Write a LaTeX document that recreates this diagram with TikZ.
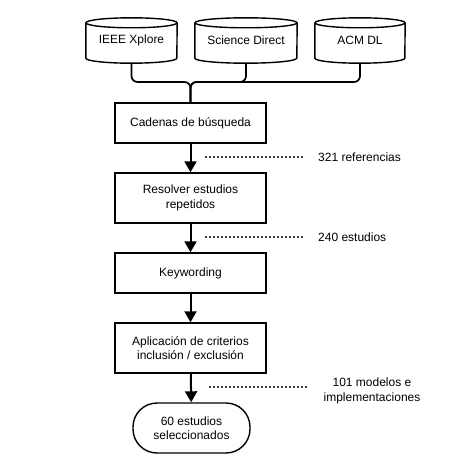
\documentclass[tikz,border=0pt]{standalone}
\usepackage{fontspec}
\setmainfont{Liberation Sans}
\usetikzlibrary{arrows.meta}
\begin{document}
\begin{tikzpicture}[x=1pt,y=1pt,
  font=\fontsize{12}{14.5}\selectfont,
  box/.style={draw, line width=1.4pt, minimum width=151pt, align=center, inner sep=0pt},
  dbnode/.style={minimum height=45pt, inner sep=0pt},
  flow/.style={line width=2pt, -{Triangle[width=12pt,length=11pt]}},
  feed/.style={line width=1.7pt, rounded corners=6pt},
  dots/.style={line width=1.8pt, dash pattern=on 1.8pt off 2.2pt, black!75},
  lbl/.style={anchor=west, inner sep=0pt}]
\useasboundingbox (0,0) rectangle (464,-476);
% databases
\node[dbnode, minimum width=91pt] (ieee) at (131.5,-40.5) {IEEE Xplore};
\node[dbnode, minimum width=102pt] (sd) at (246,-40.5) {Science Direct};
\node[dbnode, minimum width=90pt] (acm) at (360,-40.5) {ACM DL};
\foreach \n/\r in {ieee/45.5, sd/51, acm/45} {
  \draw[line width=1.4pt] ([yshift=-5pt]\n.north west) -- ([yshift=5pt]\n.south west)
     arc[start angle=180, end angle=360, x radius=\r pt, y radius=5pt]
     -- ([yshift=-5pt]\n.north east);
  \draw[line width=1.4pt] ([yshift=-5pt]\n.north) ellipse[x radius=\r pt, y radius=5pt];
}
% process boxes
\node[box, minimum height=40pt] (cad) at (190.5,-123) {Cadenas de búsqueda};
\node[box, minimum height=50pt] (res) at (190.5,-198) {Resolver estudios\\repetidos};
\node[box, minimum height=40pt] (key) at (190.5,-273) {Keywording};
\node[box, minimum height=50pt] (apl) at (190.5,-348) {Aplicación de criterios\\inclusión / exclusión};
\node[box, minimum width=117pt, minimum height=50pt, rounded corners=24pt] (sel) at (191.5,-428) {60 estudios\\seleccionados};
% feeds
\coordinate (merge) at (190.5,-82);
\draw[feed] (ieee.south) |- (merge) -- (cad.north);
\draw[feed] (sd.south) |- (merge) -- (cad.north);
\draw[feed] (acm.south) |- (merge) -- (cad.north);
% flow arrows
\draw[flow] (cad) -- (res);
\draw[flow] (res) -- (key);
\draw[flow] (key) -- (apl);
\draw[flow] (apl) -- (sel);
% annotations
\coordinate (d1a) at (205,-157); \coordinate (d1b) at (303,-157);
\coordinate (d2a) at (205,-237); \coordinate (d2b) at (303,-237);
\coordinate (d3a) at (209,-387); \coordinate (d3b) at (307,-387);
\draw[dots] (d1a) -- (d1b);
\draw[dots] (d2a) -- (d2b);
\draw[dots] (d3a) -- (d3b);
\node[lbl] (l1) at (318,-157) {321 referencias};
\node[lbl] (l2) at (318,-237) {240 estudios};
\node[align=center, inner sep=0pt] (l3) at (372,-391) {101 modelos e\\implementaciones};
\end{tikzpicture}
\end{document}
